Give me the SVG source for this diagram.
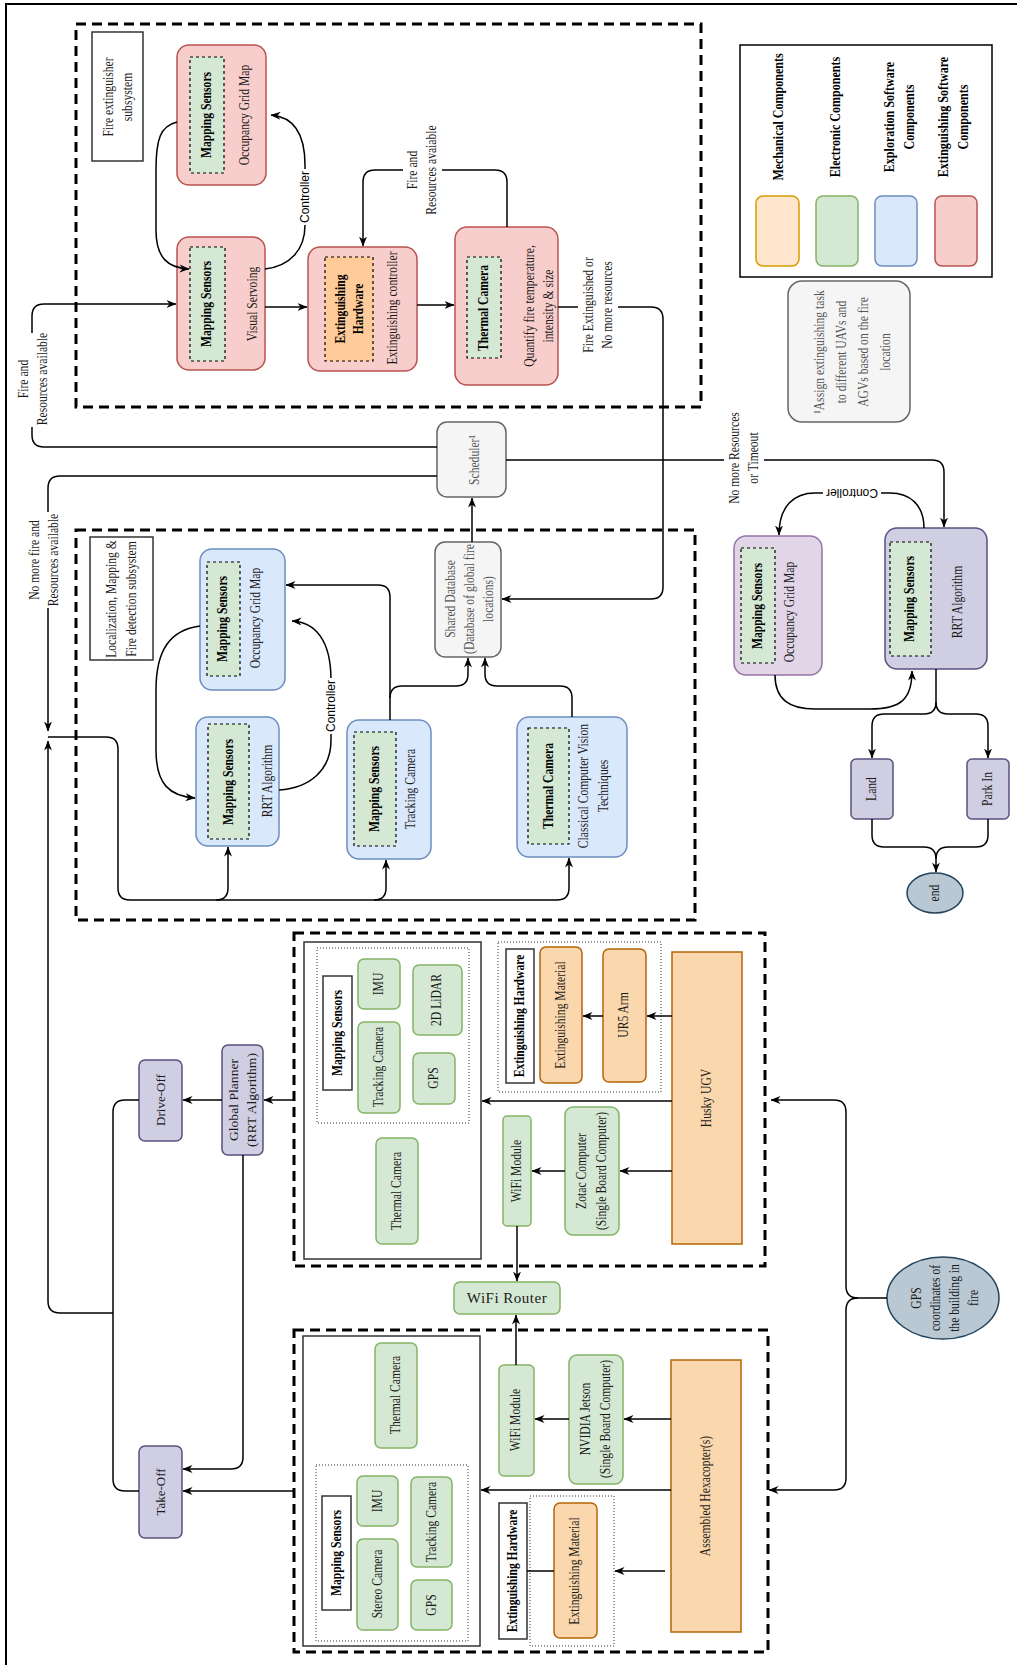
<svg xmlns="http://www.w3.org/2000/svg" width="1017" height="1665" viewBox="0 0 1017 1665">
<defs>
<marker id="arr" viewBox="0 0 10 10" refX="9.5" refY="5" markerWidth="10" markerHeight="10" markerUnits="userSpaceOnUse" orient="auto"><path d="M0,1 L10,5 L0,9 L3,5 Z" fill="#000"/></marker>
</defs>
<style>
.t{font-family:"Liberation Serif","Times New Roman",serif;font-size:14px;fill:#1a1a1a;text-anchor:middle;dominant-baseline:central}
.b{font-weight:bold;fill:#000}
.gr{fill:#555}
.lg{font-size:14.5px}
.s{font-family:"Liberation Sans",Arial,sans-serif;font-size:12px;fill:#000;text-anchor:middle;dominant-baseline:central}
.dash{fill:none;stroke:#000;stroke-width:3;stroke-dasharray:10 6}
.red{fill:#f8cecc;stroke:#b85450;stroke-width:1.5}
.grn{fill:#d5e8d4;stroke:#82b366;stroke-width:1.5}
.blu{fill:#dae8fc;stroke:#6c8ebf;stroke-width:1.5}
.org{fill:#fad7ac;stroke:#b46504;stroke-width:1.5}
.org2{fill:#ffe6cc;stroke:#d79b00;stroke-width:1.5}
.pur{fill:#d0cee2;stroke:#56517e;stroke-width:1.5}
.pnk{fill:#e1d5e7;stroke:#9673a6;stroke-width:1.5}
.gry{fill:#f5f5f5;stroke:#666;stroke-width:1.5}
.ell{fill:#bac8d3;stroke:#23445d;stroke-width:1.5}
.in{fill:#d5e8d4;stroke:#000;stroke-width:1.2;stroke-dasharray:3 3}
.inO{fill:#ffcc99;stroke:#000;stroke-width:1.2;stroke-dasharray:3 3}
.lbl{fill:#fff;stroke:#333;stroke-width:1.5}
.sol{fill:none;stroke:#333;stroke-width:1.5}
.dot{fill:none;stroke:#333;stroke-width:1;stroke-dasharray:1 2}
.c{fill:none;stroke:#000;stroke-width:1.5}
.ca{fill:none;stroke:#000;stroke-width:1.5;marker-end:url(#arr)}
.wb{fill:#fff}
</style>
<rect x="0" y="0" width="1017" height="1665" fill="#fff"/>
<path d="M6,1665 V4 H1017" fill="none" stroke="#000" stroke-width="2"/>

<!-- Fire extinguisher subsystem -->
<g id="fire-subsystem"><rect class="dash" x="76" y="24" width="625" height="383"/></g>
<g id="fire-label"><rect class="lbl" x="92" y="32" width="51" height="129"/>
<text class="t" transform="translate(118,97) rotate(-90) scale(.83,1)"><tspan x="0" dy="-9.5">Fire extinguisher</tspan><tspan x="0" dy="19">subsystem</tspan></text></g>
<g id="fe-occupancy"><rect class="red" x="177" y="45" width="89" height="140" rx="12"/><rect class="in" x="190" y="57" width="34" height="116"/>
<text class="t b" transform="translate(207,115) rotate(-90) scale(.83,1)">Mapping Sensors</text>
<text class="t" transform="translate(245,115) rotate(-90) scale(.83,1)">Occupancy Grid Map</text></g>
<g id="fe-visual"><rect class="red" x="177" y="237" width="88" height="133" rx="12"/><rect class="in" x="190" y="247" width="35" height="114"/>
<text class="t b" transform="translate(207,304) rotate(-90) scale(.83,1)">Mapping Sensors</text>
<text class="t" transform="translate(253,304) rotate(-90) scale(.83,1)">Visual Servoing</text></g>
<g id="fe-hardware"><rect class="red" x="308" y="247" width="109" height="124" rx="12"/><rect class="inO" x="325" y="257" width="48" height="104"/>
<text class="t b" transform="translate(350,309) rotate(-90) scale(.83,1)"><tspan x="0" dy="-9">Extinguishing</tspan><tspan x="0" dy="18">Hardware</tspan></text>
<text class="t" transform="translate(393,308) rotate(-90) scale(.83,1)">Extinguishing controller</text></g>
<g id="fe-thermal"><rect class="red" x="455" y="227" width="103" height="158" rx="12"/><rect class="in" x="467" y="257" width="34" height="101"/>
<text class="t b" transform="translate(484,308) rotate(-90) scale(.83,1)">Thermal Camera</text>
<text class="t" transform="translate(539,306) rotate(-90) scale(.83,1)"><tspan x="0" dy="-9.5">Quantify fire temperature,</tspan><tspan x="0" dy="19">intensity &amp; size</tspan></text></g>

<!-- Legend -->
<g id="legend"><rect x="740" y="45" width="252" height="232" fill="#fff" stroke="#000" stroke-width="1.5"/>
<rect class="org2" x="756" y="196" width="43" height="70" rx="7"/>
<rect class="grn" x="816" y="196" width="42" height="70" rx="7"/>
<rect class="blu" x="875" y="196" width="42" height="70" rx="7"/>
<rect class="red" x="935" y="196" width="42" height="70" rx="7"/>
<text class="t b lg" transform="translate(778,117) rotate(-90) scale(.83,1)">Mechanical Components</text>
<text class="t b lg" transform="translate(835,117) rotate(-90) scale(.83,1)">Electronic Components</text>
<text class="t b lg" transform="translate(899,117) rotate(-90) scale(.83,1)"><tspan x="0" dy="-10">Exploration Software</tspan><tspan x="0" dy="20">Components</tspan></text>
<text class="t b lg" transform="translate(953,117) rotate(-90) scale(.83,1)"><tspan x="0" dy="-10">Extinguishing Software</tspan><tspan x="0" dy="20">Components</tspan></text></g>
<g id="note"><rect class="gry" x="788" y="281" width="122" height="141" rx="14"/>
<text class="t gr" transform="translate(853,352) rotate(-90) scale(.83,1)"><tspan x="0" dy="-33">¹Assign extinguishing task</tspan><tspan x="0" dy="22">to different UAVs and</tspan><tspan x="0" dy="22">AGVs based on the fire</tspan><tspan x="0" dy="22">location</tspan></text></g>

<g id="scheduler"><rect class="gry" x="437" y="422" width="69" height="75" rx="10"/>
<text class="t gr" transform="translate(475,460) rotate(-90) scale(.83,1)">Scheduler¹</text></g>

<!-- Localization subsystem -->
<g id="loc-subsystem"><rect class="dash" x="76" y="530" width="619" height="390"/></g>
<g id="loc-label"><rect class="lbl" x="90" y="537" width="63" height="123"/>
<text class="t" transform="translate(122,599) rotate(-90) scale(.83,1)"><tspan x="0" dy="-10">Localization, Mapping &amp;</tspan><tspan x="0" dy="20">Fire detection subsystem</tspan></text></g>
<g id="shared-db"><rect class="gry" x="435" y="542" width="66" height="115" rx="10"/>
<text class="t gr" transform="translate(470,599) rotate(-90) scale(.83,1)"><tspan x="0" dy="-19">Shared Database</tspan><tspan x="0" dy="19">(Database of global fire</tspan><tspan x="0" dy="19">locations)</tspan></text></g>
<g id="loc-occupancy"><rect class="blu" x="200" y="549" width="85" height="141" rx="12"/><rect class="in" x="207" y="562" width="33" height="114"/>
<text class="t b" transform="translate(223,619) rotate(-90) scale(.83,1)">Mapping Sensors</text>
<text class="t" transform="translate(256,618) rotate(-90) scale(.83,1)">Occupancy Grid Map</text></g>
<g id="loc-rrt"><rect class="blu" x="196" y="717" width="83" height="129" rx="12"/><rect class="in" x="208" y="724" width="41" height="115"/>
<text class="t b" transform="translate(229,782) rotate(-90) scale(.83,1)">Mapping Sensors</text>
<text class="t" transform="translate(268,781) rotate(-90) scale(.83,1)">RRT Algorithm</text></g>
<g id="loc-tracking"><rect class="blu" x="347" y="720" width="84" height="139" rx="12"/><rect class="in" x="354" y="732" width="42" height="114"/>
<text class="t b" transform="translate(375,789) rotate(-90) scale(.83,1)">Mapping Sensors</text>
<text class="t" transform="translate(411,789) rotate(-90) scale(.83,1)">Tracking Camera</text></g>
<g id="loc-thermal"><rect class="blu" x="517" y="717" width="110" height="140" rx="12"/><rect class="in" x="528" y="728" width="41" height="116"/>
<text class="t b" transform="translate(549,786) rotate(-90) scale(.83,1)">Thermal Camera</text>
<text class="t" transform="translate(594,786) rotate(-90) scale(.83,1)"><tspan x="0" dy="-10">Classical Computer Vision</tspan><tspan x="0" dy="20">Techniques</tspan></text></g>

<!-- Right side -->
<g id="r-rrt"><rect class="pur" x="885" y="528" width="102" height="141" rx="12"/><rect class="in" x="890" y="542" width="41" height="114"/>
<text class="t b" transform="translate(910,599) rotate(-90) scale(.83,1)">Mapping Sensors</text>
<text class="t" transform="translate(958,602) rotate(-90) scale(.83,1)">RRT Algorithm</text></g>
<g id="r-occupancy"><rect class="pnk" x="734" y="536" width="88" height="139" rx="12"/><rect class="in" x="741" y="548" width="34" height="115"/>
<text class="t b" transform="translate(758,606) rotate(-90) scale(.83,1)">Mapping Sensors</text>
<text class="t" transform="translate(790,612) rotate(-90) scale(.83,1)">Occupancy Grid Map</text></g>
<g id="land"><rect class="pur" x="851" y="759" width="42" height="60" rx="5"/><text class="t" transform="translate(872,789) rotate(-90) scale(.83,1)">Land</text></g>
<g id="park-in"><rect class="pur" x="967" y="759" width="42" height="60" rx="5"/><text class="t" transform="translate(988,789) rotate(-90) scale(.83,1)">Park In</text></g>
<g id="end"><ellipse class="ell" cx="935" cy="893" rx="28" ry="20"/><text class="t" transform="translate(935,893) rotate(-90) scale(.83,1)">end</text></g>

<!-- UGV -->
<g id="ugv"><rect class="dash" x="294" y="933" width="471" height="333"/>
<rect class="sol" x="304" y="942" width="177" height="317"/>
<rect class="dot" x="317" y="948" width="152" height="175"/>
<rect class="dot" x="498" y="942" width="163" height="150"/></g>
<g id="ugv-ms-label"><rect class="lbl" x="323" y="976" width="29" height="114"/><text class="t b" transform="translate(338,1033) rotate(-90) scale(.83,1)">Mapping Sensors</text></g>
<g id="ugv-imu"><rect class="grn" x="358" y="959" width="42" height="50" rx="6"/><text class="t" transform="translate(379,984) rotate(-90) scale(.83,1)">IMU</text></g>
<g id="ugv-tracking"><rect class="grn" x="358" y="1022" width="42" height="91" rx="6"/><text class="t" transform="translate(379,1067) rotate(-90) scale(.83,1)">Tracking Camera</text></g>
<g id="ugv-lidar"><rect class="grn" x="413" y="965" width="49" height="70" rx="6"/><text class="t" transform="translate(437,1000) rotate(-90) scale(.83,1)">2D LiDAR</text></g>
<g id="ugv-gps"><rect class="grn" x="413" y="1053" width="42" height="51" rx="6"/><text class="t" transform="translate(434,1078) rotate(-90) scale(.83,1)">GPS</text></g>
<g id="ugv-thermal"><rect class="grn" x="376" y="1138" width="42" height="106" rx="6"/><text class="t" transform="translate(397,1191) rotate(-90) scale(.83,1)">Thermal Camera</text></g>
<g id="ugv-eh-label"><rect class="lbl" x="506" y="949" width="28" height="134"/><text class="t b" transform="translate(520,1016) rotate(-90) scale(.83,1)">Extinguishing Hardware</text></g>
<g id="ugv-material"><rect class="org" x="540" y="947" width="42" height="136" rx="6"/><text class="t" transform="translate(561,1015) rotate(-90) scale(.83,1)">Extinguishing Material</text></g>
<g id="ugv-ur5"><rect class="org" x="603" y="949" width="43" height="133" rx="6"/><text class="t" transform="translate(624,1015) rotate(-90) scale(.83,1)">UR5 Arm</text></g>
<g id="husky"><rect class="org" x="672" y="952" width="70" height="292"/><text class="t" transform="translate(707,1098) rotate(-90) scale(.83,1)">Husky UGV</text></g>
<g id="ugv-wifi"><rect class="grn" x="503" y="1116" width="28" height="110" rx="4"/><text class="t" transform="translate(517,1171) rotate(-90) scale(.83,1)">WiFi Module</text></g>
<g id="zotac"><rect class="grn" x="565" y="1107" width="54" height="128" rx="8"/><text class="t" transform="translate(592,1171) rotate(-90) scale(.83,1)"><tspan x="0" dy="-10">Zotac Computer</tspan><tspan x="0" dy="20">(Single Board Computer)</tspan></text></g>

<g id="wifi-router"><rect class="grn" x="454" y="1282" width="106" height="32" rx="6"/><text class="t" x="507" y="1298" style="font-size:15px;letter-spacing:0.5px">WiFi Router</text></g>

<!-- UAV -->
<g id="uav"><rect class="dash" x="294" y="1330" width="474" height="322"/>
<rect class="sol" x="303" y="1336" width="177" height="310"/>
<rect class="dot" x="316" y="1465" width="152" height="176"/>
<rect class="dot" x="530" y="1496" width="84" height="150"/></g>
<g id="uav-thermal"><rect class="grn" x="375" y="1343" width="42" height="105" rx="6"/><text class="t" transform="translate(396,1395) rotate(-90) scale(.83,1)">Thermal Camera</text></g>
<g id="uav-ms-label"><rect class="lbl" x="322" y="1496" width="29" height="114"/><text class="t b" transform="translate(337,1553) rotate(-90) scale(.83,1)">Mapping Sensors</text></g>
<g id="uav-imu"><rect class="grn" x="357" y="1476" width="41" height="50" rx="6"/><text class="t" transform="translate(378,1501) rotate(-90) scale(.83,1)">IMU</text></g>
<g id="uav-stereo"><rect class="grn" x="357" y="1539" width="41" height="91" rx="6"/><text class="t" transform="translate(378,1584) rotate(-90) scale(.83,1)">Stereo Camera</text></g>
<g id="uav-tracking"><rect class="grn" x="411" y="1477" width="41" height="90" rx="6"/><text class="t" transform="translate(432,1522) rotate(-90) scale(.83,1)">Tracking Camera</text></g>
<g id="uav-gps"><rect class="grn" x="411" y="1580" width="41" height="50" rx="6"/><text class="t" transform="translate(432,1605) rotate(-90) scale(.83,1)">GPS</text></g>
<g id="uav-wifi"><rect class="grn" x="499" y="1365" width="35" height="111" rx="5"/><text class="t" transform="translate(516,1420) rotate(-90) scale(.83,1)">WiFi Module</text></g>
<g id="jetson"><rect class="grn" x="569" y="1355" width="54" height="129" rx="8"/><text class="t" transform="translate(596,1419) rotate(-90) scale(.83,1)"><tspan x="0" dy="-10">NVIDIA Jetson</tspan><tspan x="0" dy="20">(Single Board Computer)</tspan></text></g>
<g id="hexacopter"><rect class="org" x="671" y="1360" width="70" height="272"/><text class="t" transform="translate(706,1496) rotate(-90) scale(.83,1)">Assembled Hexacopter(s)</text></g>
<g id="uav-eh-label"><rect class="lbl" x="499" y="1503" width="28" height="136"/><text class="t b" transform="translate(513,1571) rotate(-90) scale(.83,1)">Extinguishing Hardware</text></g>
<g id="uav-material"><rect class="org" x="554" y="1503" width="43" height="135" rx="6"/><text class="t" transform="translate(575,1571) rotate(-90) scale(.83,1)">Extinguishing Material</text></g>

<!-- Left flow -->
<g id="drive-off"><rect class="pur" x="139" y="1060" width="43" height="81" rx="6"/><text class="t" style="font-size:13px" transform="translate(160,1100) rotate(-90)">Drive-Off</text></g>
<g id="take-off"><rect class="pur" x="139" y="1446" width="43" height="92" rx="6"/><text class="t" style="font-size:13px" transform="translate(160,1492) rotate(-90)">Take-Off</text></g>
<g id="global-planner"><rect class="pur" x="222" y="1045" width="41" height="110" rx="6"/><text class="t" style="font-size:13px" transform="translate(242,1100) rotate(-90) scale(1.05,1)"><tspan x="0" dy="-9">Global Planner</tspan><tspan x="0" dy="18">(RRT Algorithm)</tspan></text></g>
<g id="gps-coords"><ellipse class="ell" cx="943" cy="1298" rx="56" ry="41"/><text class="t" transform="translate(945,1298) rotate(-90) scale(.83,1)"><tspan x="0" dy="-28.5">GPS</tspan><tspan x="0" dy="19">coordinates of</tspan><tspan x="0" dy="19">the building in</tspan><tspan x="0" dy="19">fire</tspan></text></g>

<g id="connectors">
<path class="ca" d="M437,447 H44 Q32,447 32,435 V316 Q32,304 44,304 H176"/>
<path class="ca" d="M177,122 C160,126 156,140 156,170 L156,230 C156,258 168,268 189,269"/>
<path class="ca" d="M265,269 C290,266 305,250 305,225 L305,165 C305,135 295,117 271,115"/>
<path class="ca" d="M265,307 H307"/>
<path class="ca" d="M417,305 H454"/>
<path class="ca" d="M507,227 V182 Q507,170 495,170 H375 Q363,170 363,182 V246"/>
<path class="ca" d="M558,307 H651 Q663,307 663,319 V587 Q663,599 651,599 H502"/>
<path class="ca" d="M437,476 H60 Q48,476 48,488 V731"/>
<path class="ca" d="M113,1313 H60 Q48,1313 48,1301 V741"/>
<path class="ca" d="M48,737 H106 Q118,737 118,749 V888 Q118,900 130,900 H557 Q569,900 569,888 V858"/>
<path class="ca" d="M216,900 Q228,900 228,888 V847"/>
<path class="ca" d="M374,900 Q386,900 386,888 V860"/>
<path class="ca" d="M390,720 V597 Q390,585 378,585 H286"/>
<path class="ca" d="M390,698 Q390,686 402,686 H456 Q468,686 468,674 V658"/>
<path class="ca" d="M572,717 V698 Q572,686 560,686 H497 Q485,686 485,674 V658"/>
<path class="ca" d="M472,542 V498"/>
<path class="ca" d="M200,626 C170,630 156,650 156,690 L156,750 C156,785 170,796 195,798"/>
<path class="ca" d="M279,790 C310,788 331,770 331,740 L331,680 C331,640 315,622 292,621"/>
<path class="ca" d="M506,460 H932 Q944,460 944,472 V527"/>
<path class="ca" d="M924,528 C924,505 910,493 890,493 L815,493 C795,493 779,505 779,535"/>
<path class="ca" d="M775,675 C775,700 790,709 815,709 L870,709 C900,709 912,700 912,671"/>
<path class="ca" d="M936,669 V702 Q936,714 924,714 H884 Q872,714 872,726 V758"/>
<path class="ca" d="M936,702 Q936,714 948,714 H976 Q988,714 988,726 V758"/>
<path class="ca" d="M872,819 V835 Q872,847 884,847 H924 Q936,847 936,859 V872"/>
<path class="c" d="M988,819 V835 Q988,847 976,847 H948 Q936,847 936,859"/>
<path class="ca" d="M672,1016 H647"/>
<path class="ca" d="M603,1016 H583"/>
<path class="ca" d="M672,1101 H482"/>
<path class="ca" d="M672,1171 H620"/>
<path class="ca" d="M565,1171 H532"/>
<path class="ca" d="M517,1226 V1281"/>
<path class="ca" d="M516,1365 V1315"/>
<path class="ca" d="M671,1419 H624"/>
<path class="ca" d="M569,1419 H535"/>
<path class="ca" d="M671,1490 H481"/>
<path class="ca" d="M665,1571 H615"/>
<path class="c" d="M554,1571 H527"/>
<path class="ca" d="M293,1100 H264"/>
<path class="ca" d="M222,1100 H183"/>
<path class="ca" d="M243,1155 V1457 Q243,1469 231,1469 H183"/>
<path class="ca" d="M294,1491 H183"/>
<path class="c" d="M139,1100 H125 Q113,1100 113,1112 V1479 Q113,1491 125,1491 H139"/>
<path class="ca" d="M887,1298 H858 Q846,1298 846,1286 V1112 Q846,1100 834,1100 H771"/>
<path class="ca" d="M858,1298 Q846,1298 846,1310 V1478 Q846,1490 834,1490 H769"/>

<rect class="wb" x="14" y="333" width="38" height="94"/>
<text class="t" transform="translate(33,379) rotate(-90) scale(.83,1)"><tspan x="0" dy="-9.5">Fire  and</tspan><tspan x="0" dy="19">Resources available</tspan></text>
<rect class="wb" x="26" y="512" width="36" height="96"/>
<text class="t" transform="translate(44,560) rotate(-90) scale(.83,1)"><tspan x="0" dy="-9.5">No more fire and</tspan><tspan x="0" dy="19">Resources available</tspan></text>
<rect class="wb" x="403" y="124" width="39" height="91"/>
<text class="t" transform="translate(422,170) rotate(-90) scale(.83,1)"><tspan x="0" dy="-9.5">Fire and</tspan><tspan x="0" dy="19">Resources avaiable</tspan></text>
<rect class="wb" x="578" y="254" width="40" height="102"/>
<text class="t" transform="translate(598,305) rotate(-90) scale(.83,1)"><tspan x="0" dy="-9.5">Fire Extinguished or</tspan><tspan x="0" dy="19">No more resources</tspan></text>
<rect class="wb" x="724" y="412" width="40" height="92"/>
<text class="t" transform="translate(744,458) rotate(-90) scale(.83,1)"><tspan x="0" dy="-9.5">No more Resources</tspan><tspan x="0" dy="19">or Timeout</tspan></text>
<rect class="wb" x="297" y="169" width="16" height="56"/>
<text class="s" transform="translate(305,197) rotate(-90)">Controller</text>
<rect class="wb" x="323" y="678" width="16" height="56"/>
<text class="s" transform="translate(331,706) rotate(-90)">Controller</text>
<rect class="wb" x="823" y="485" width="58" height="16"/>
<text class="s" transform="translate(852,493) rotate(180)">Controller</text>
</g>
</svg>
